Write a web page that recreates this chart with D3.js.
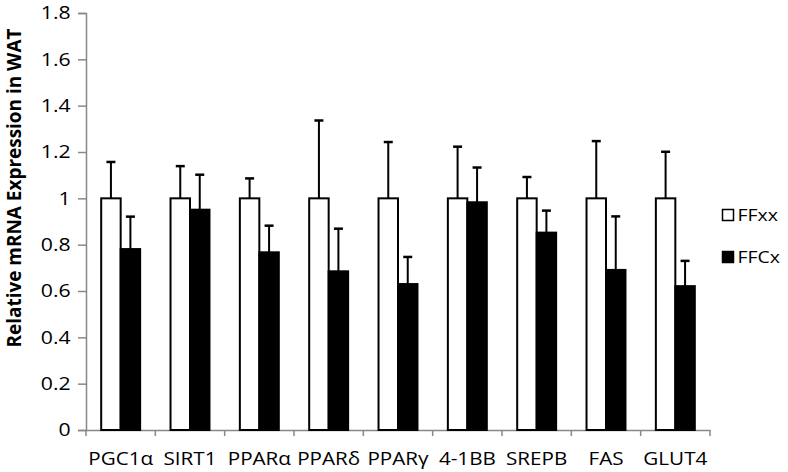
<!DOCTYPE html>
<html>
<head>
<meta charset="utf-8">
<script src="https://cdn.jsdelivr.net/npm/d3@7"></script>
<style>
  body { margin: 0; background: #fff; }
  svg text { font-family: "Open Sans", Lato, sans-serif; fill: #000; }
</style>
</head>
<body>
<svg id="chart" width="788" height="472"></svg>
<script>
// values
const genes = ["PGC1\u03b1", "SIRT1", "PPAR\u03b1", "PPAR\u03b4", "PPAR\u03b3", "4-1BB", "SREPB", "FAS", "GLUT4"];
const groups = ["FFxx", "FFCx"];
const ffxx    = [1, 1, 1, 1, 1, 1, 1, 1, 1];
const ffxxErr = [0.157, 0.139, 0.086, 0.336, 0.243, 0.223, 0.092, 0.247, 0.201];
const ffcx    = [0.781, 0.951, 0.767, 0.685, 0.630, 0.983, 0.852, 0.691, 0.621];
const ffcxErr = [0.140, 0.151, 0.115, 0.184, 0.117, 0.150, 0.095, 0.231, 0.109];
const yTicks  = [0, 0.2, 0.4, 0.6, 0.8, 1, 1.2, 1.4, 1.6, 1.8];

const m = {top: 13, right: 78, bottom: 42, left: 86};
const width = 788, height = 472;
const w = width - m.left - m.right, h = height - m.top - m.bottom;
const stretch = 1.18; // the source text is a bit wide

const svg = d3.select("#chart");
const g = svg.append("g").attr("transform", `translate(${m.left},${m.top})`);

const x = d3.scaleBand().domain(genes).range([0, w]);
const x1 = d3.scaleBand().domain(groups).range([0, x.bandwidth()]).paddingOuter(0.78).paddingInner(0);
const y = d3.scaleLinear().domain([0, 1.8]).range([h, 0]);
const fill = d3.scaleOrdinal().domain(groups).range(["#fff", "#000"]);

const rows = genes.map((k, i) => ({
  gene: k,
  vals: [
    {grp: "FFxx", v: ffxx[i], e: ffxxErr[i]},
    {grp: "FFCx", v: ffcx[i], e: ffcxErr[i]}
  ]
}));

// y axis
const yAxis = g.append("g")
  .call(d3.axisLeft(y).tickValues(yTicks).tickSize(8).tickPadding(5)
    .tickFormat(d => String(+d.toFixed(1))));
yAxis.select(".domain").attr("stroke", "#888").attr("stroke-width", 1.5);
yAxis.selectAll(".tick line").attr("stroke", "#888").attr("stroke-width", 1.5);
yAxis.selectAll("text").style("font-size", "18px")
  .attr("transform", `scale(${stretch},1)`);

// x axis, ticks at category boundaries
const xAxis = g.append("g").attr("transform", `translate(0,${h})`)
  .call(d3.axisBottom(x).tickSize(0));
xAxis.select(".domain").attr("stroke", "#888").attr("stroke-width", 1.5);
xAxis.selectAll("text").style("font-size", "17.5px")
  .attr("y", 35).attr("dy", null)
  .attr("transform", `scale(${stretch},1)`);
xAxis.selectAll(".bound")
  .data(genes.map(k => x(k)).concat([x(genes[genes.length - 1]) + x.bandwidth()]))
  .join("line")
  .attr("class", "bound")
  .attr("x1", d => d).attr("x2", d => d)
  .attr("y1", 0).attr("y2", 6)
  .attr("stroke", "#888").attr("stroke-width", 1.5);

// bars
const cat = g.selectAll(".cat").data(rows).join("g")
  .attr("class", "cat")
  .attr("transform", d => `translate(${x(d.gene)},0)`);

// error bars (drawn first so bar outline sits on top)
const eb = cat.selectAll(".err").data(d => d.vals).join("g").attr("class", "err");
eb.append("line")
  .attr("x1", d => x1(d.grp) + x1.bandwidth() / 2)
  .attr("x2", d => x1(d.grp) + x1.bandwidth() / 2)
  .attr("y1", d => y(d.v)).attr("y2", d => y(d.v + d.e))
  .attr("stroke", "#000").attr("stroke-width", 2);
eb.append("line")
  .attr("x1", d => x1(d.grp) + x1.bandwidth() / 2 - 4.5)
  .attr("x2", d => x1(d.grp) + x1.bandwidth() / 2 + 4.5)
  .attr("y1", d => y(d.v + d.e)).attr("y2", d => y(d.v + d.e))
  .attr("stroke", "#000").attr("stroke-width", 2.5);

cat.selectAll("rect").data(d => d.vals).join("rect")
  .attr("x", d => x1(d.grp))
  .attr("y", d => y(d.v))
  .attr("width", x1.bandwidth())
  .attr("height", d => y(0) - y(d.v))
  .attr("fill", d => fill(d.grp))
  .attr("stroke", "#000").attr("stroke-width", 2);

// y title
svg.append("text")
  .attr("transform", "translate(20.5,188) rotate(-90) scale(1,1.15)")
  .attr("text-anchor", "middle")
  .attr("textLength", 319).attr("lengthAdjust", "spacingAndGlyphs")
  .style("font-size", "16.5px").style("font-weight", "bold")
  .text("Relative mRNA Expression in WAT");

// legend
const lg = svg.append("g").attr("transform", "translate(722.5,209.5)");
const li = lg.selectAll("g").data(groups).join("g")
  .attr("transform", (d, i) => `translate(0,${i * 42})`);
li.append("rect").attr("width", 11).attr("height", 11)
  .attr("fill", d => fill(d)).attr("stroke", "#000").attr("stroke-width", 1.5);
li.append("text").attr("x", 15 / stretch).attr("y", 11.5)
  .attr("transform", `scale(${stretch},1)`)
  .style("font-size", "16.5px").text(d => d);
</script>
</body>
</html>
